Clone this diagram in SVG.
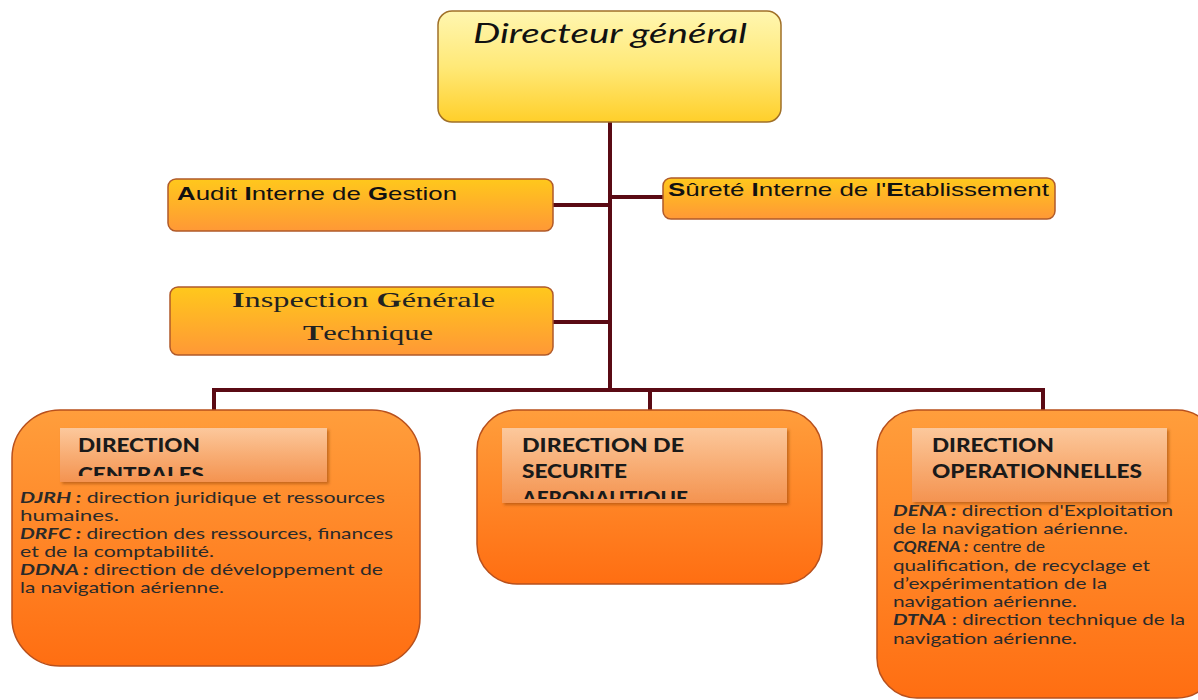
<svg xmlns="http://www.w3.org/2000/svg" width="1198" height="700" viewBox="0 0 1198 700">
<defs>
<linearGradient id="gTop" x1="0" y1="0" x2="0" y2="1">
<stop offset="0" stop-color="#fff6b0"/><stop offset="0.5" stop-color="#ffe978"/><stop offset="1" stop-color="#ffcf2a"/>
</linearGradient>
<linearGradient id="gMid" x1="0" y1="0" x2="0" y2="1">
<stop offset="0" stop-color="#ffc81c"/><stop offset="1" stop-color="#ff9836"/>
</linearGradient>
<linearGradient id="gBig" x1="0" y1="0" x2="0" y2="1">
<stop offset="0" stop-color="#ff9e3c"/><stop offset="1" stop-color="#ff6e12"/>
</linearGradient>
<linearGradient id="gHead" x1="0" y1="0" x2="0" y2="1">
<stop offset="0" stop-color="#fcc89c"/><stop offset="0.5" stop-color="#f8ad74"/><stop offset="1" stop-color="#f49350"/>
</linearGradient>
<filter id="sh" x="-10%" y="-10%" width="125%" height="130%">
<feDropShadow dx="2" dy="2" stdDeviation="1.5" flood-color="#7a3000" flood-opacity="0.45"/>
</filter>
<clipPath id="cL"><rect x="60" y="428" width="267" height="48"/></clipPath>
<clipPath id="cM"><rect x="502" y="428" width="285" height="71"/></clipPath>
</defs>
<style>
.bx{stroke-width:1.5}
.top{fill:url(#gTop);stroke:#a07028}
.mid{fill:url(#gMid);stroke:#b05a2a}
.big{fill:url(#gBig);stroke:#b8501c}
.head{fill:url(#gHead);filter:url(#sh)}
.ln{stroke:#5a0a14;stroke-width:4;fill:none}
.sans{font-family:"Liberation Sans",Arial,sans-serif;font-size:19px;fill:#111}
.ser{font-family:"Liberation Serif","Times New Roman",serif;font-size:22px;fill:#222}
.hd{font-family:Lato,"Open Sans",sans-serif;font-weight:900;font-size:18px;fill:#1a1a1a}
.bd{font-family:Lato,"Open Sans",sans-serif;font-size:15px;fill:#2a2a2a}
.b{font-weight:bold}
.bi{font-weight:bold;font-style:italic}
</style>
<g id="connectors">
<path class="ln" d="M610,122 V390"/>
<path class="ln" d="M553,205 H610"/>
<path class="ln" d="M610,197 H663"/>
<path class="ln" d="M553,322 H610"/>
<path class="ln" d="M214,410 V390 H1043 V410"/>
<path class="ln" d="M650,390 V410"/>
</g>
<g id="directeur">
<rect class="bx top" x="438" y="11" width="343" height="111" rx="14"/>
<text x="473" y="43" font-family="Lato,'Open Sans',sans-serif" font-style="italic" font-size="27" fill="#111" textLength="274" lengthAdjust="spacingAndGlyphs">Directeur général</text>
</g>
<g id="audit">
<rect class="bx mid" x="168" y="179" width="385" height="52" rx="8"/>
<text class="sans" x="177" y="200" textLength="280" lengthAdjust="spacingAndGlyphs"><tspan class="b">A</tspan>udit <tspan class="b">I</tspan>nterne de <tspan class="b">G</tspan>estion</text>
</g>
<g id="surete">
<rect class="bx mid" x="663" y="178" width="392" height="41" rx="8"/>
<text class="sans" x="668" y="196" textLength="381" lengthAdjust="spacingAndGlyphs"><tspan class="b">S</tspan>ûreté <tspan class="b">I</tspan>nterne de l'<tspan class="b">E</tspan>tablissement</text>
</g>
<g id="inspection">
<rect class="bx mid" x="170" y="287" width="383" height="68" rx="8"/>
<text class="ser" x="232" y="307" textLength="263" lengthAdjust="spacingAndGlyphs"><tspan class="b">I</tspan>nspection <tspan class="b">G</tspan>énérale</text>
<text class="ser" x="303" y="340" textLength="130" lengthAdjust="spacingAndGlyphs"><tspan class="b">T</tspan>echnique</text>
</g>
<g id="centrales">
<rect class="bx big" x="12" y="410" width="408" height="256" rx="48"/>
<rect class="head" x="60" y="428" width="267" height="54"/>
<g clip-path="url(#cL)">
<text class="hd" x="78" y="452" textLength="122" lengthAdjust="spacingAndGlyphs">DIRECTION</text>
<text class="hd" x="78" y="481" textLength="126" lengthAdjust="spacingAndGlyphs">CENTRALES</text>
</g>
<text class="bd" x="20" y="503" textLength="365" lengthAdjust="spacingAndGlyphs"><tspan class="bi">DJRH :</tspan> direction juridique et ressources</text>
<text class="bd" x="20" y="521" textLength="99" lengthAdjust="spacingAndGlyphs">humaines.</text>
<text class="bd" x="20" y="539" textLength="373" lengthAdjust="spacingAndGlyphs"><tspan class="bi">DRFC :</tspan> direction des ressources, finances</text>
<text class="bd" x="20" y="557" textLength="194" lengthAdjust="spacingAndGlyphs">et de la comptabilité.</text>
<text class="bd" x="20" y="575" textLength="363" lengthAdjust="spacingAndGlyphs"><tspan class="bi">DDNA :</tspan> direction de développement de</text>
<text class="bd" x="20" y="593" textLength="204" lengthAdjust="spacingAndGlyphs">la navigation aérienne.</text>
</g>
<g id="securite">
<rect class="bx big" x="477" y="410" width="345" height="174" rx="40"/>
<rect class="head" x="502" y="428" width="285" height="75"/>
<g clip-path="url(#cM)">
<text class="hd" x="522" y="452" textLength="162" lengthAdjust="spacingAndGlyphs">DIRECTION DE</text>
<text class="hd" x="522" y="478" textLength="105" lengthAdjust="spacingAndGlyphs">SECURITE</text>
<text class="hd" x="522" y="505" textLength="166" lengthAdjust="spacingAndGlyphs">AERONAUTIQUE</text>
</g>
</g>
<g id="operationnelles">
<rect class="bx big" x="877" y="410" width="340" height="288" rx="40"/>
<text class="bd" x="893" y="516" textLength="280" lengthAdjust="spacingAndGlyphs"><tspan class="bi">DENA :</tspan> direction d'Exploitation</text>
<rect class="head" x="912" y="428" width="255" height="74"/>
<text class="hd" x="932" y="452" textLength="122" lengthAdjust="spacingAndGlyphs">DIRECTION</text>
<text class="hd" x="932" y="478" textLength="210" lengthAdjust="spacingAndGlyphs">OPERATIONNELLES</text>
<text class="bd" x="893" y="534" textLength="235" lengthAdjust="spacingAndGlyphs">de la navigation aérienne.</text>
<text class="bd" x="893" y="552" textLength="152" lengthAdjust="spacingAndGlyphs"><tspan class="bi">CQRENA :</tspan> centre de</text>
<text class="bd" x="893" y="571" textLength="257" lengthAdjust="spacingAndGlyphs">qualification, de recyclage et</text>
<text class="bd" x="893" y="589" textLength="214" lengthAdjust="spacingAndGlyphs">d’expérimentation de la</text>
<text class="bd" x="893" y="607" textLength="184" lengthAdjust="spacingAndGlyphs">navigation aérienne.</text>
<text class="bd" x="893" y="625" textLength="292" lengthAdjust="spacingAndGlyphs"><tspan class="bi">DTNA</tspan> : direction technique de la</text>
<text class="bd" x="893" y="644" textLength="184" lengthAdjust="spacingAndGlyphs">navigation aérienne.</text>
</g>
</svg>
